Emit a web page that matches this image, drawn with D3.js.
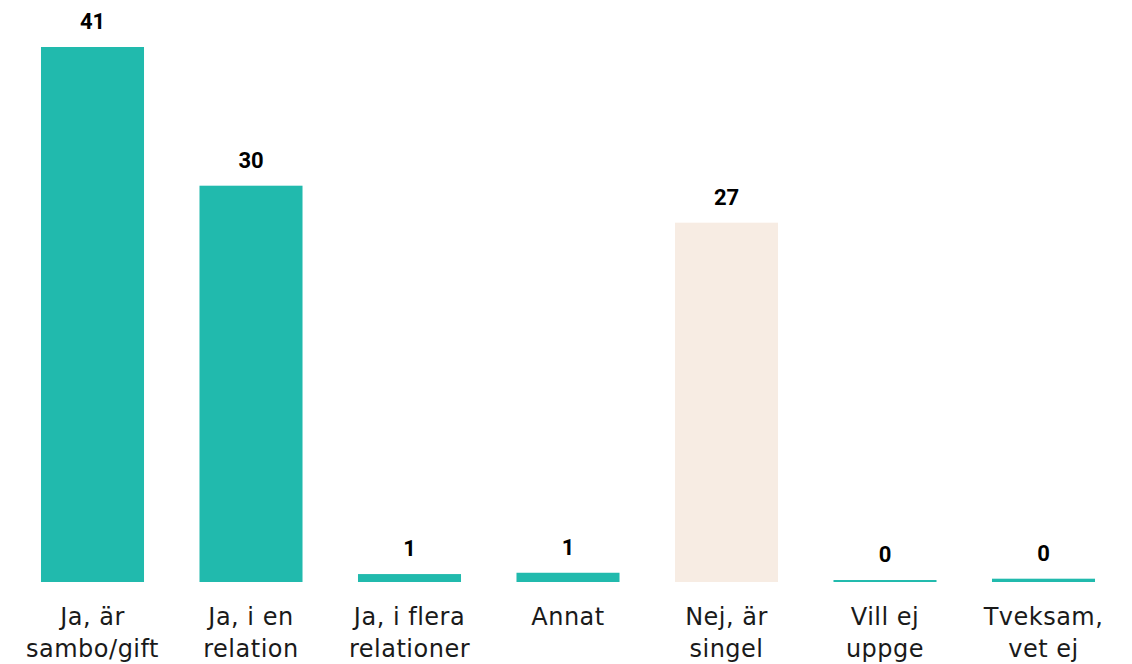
<!DOCTYPE html>
<html>
<head>
<meta charset="utf-8">
<script src="https://cdn.jsdelivr.net/npm/d3@7"></script>
<style>
  body { margin: 0; background: #fff; }
  svg { display: block; }
</style>
</head>
<body>
<svg id="chart" width="1132" height="664"></svg>
<script>
// data
var categories = [
  ["Ja, är", "sambo/gift"],
  ["Ja, i en", "relation"],
  ["Ja, i flera", "relationer"],
  ["Annat"],
  ["Nej, är", "singel"],
  ["Vill ej", "uppge"],
  ["Tveksam,", "vet ej"]
];
var values = [40.5, 30.0, 0.6, 0.7, 27.2, 0.15, 0.25];
var highlight = [false, false, false, false, true, false, false];

var teal = "#21baad";
var beige = "#f7ece3";

var svg = d3.select("#chart");

var x = d3.scaleBand()
  .domain(d3.range(values.length))
  .range([13.25, 1122.75])
  .paddingInner(0.35)
  .paddingOuter(0.175);

var y = d3.scaleLinear()
  .domain([0, d3.max(values)])
  .range([582, 47]);

// bars
svg.selectAll("rect.bar")
  .data(values).enter()
  .append("rect")
  .attr("class", "bar")
  .attr("x", function(d, i){ return x(i); })
  .attr("y", function(d){ return y(d); })
  .attr("width", x.bandwidth())
  .attr("height", function(d){ return y(0) - y(d); })
  .style("fill", function(d, i){ return highlight[i] ? beige : teal; });

// value labels (rounded)
svg.selectAll("text.val")
  .data(values).enter()
  .append("text")
  .attr("class", "val")
  .attr("x", function(d, i){ return x(i) + x.bandwidth()/2; })
  .attr("y", function(d){ return y(d) - 18; })
  .attr("text-anchor", "middle")
  .style("font-family", "Roboto, Arial, sans-serif")
  .style("font-weight", "bold")
  .style("font-size", "22px")
  .style("fill", "#000")
  .text(function(d){ return Math.round(d); });

// category labels
var cat = svg.selectAll("text.cat")
  .data(categories).enter()
  .append("text")
  .attr("class", "cat")
  .attr("x", function(d, i){ return x(i) + x.bandwidth()/2; })
  .attr("y", 625)
  .attr("text-anchor", "middle")
  .style("font-family", "'DejaVu Sans', sans-serif")
  .style("font-size", "24px")
  .style("letter-spacing", "0.5px")
  .style("fill", "#1a1a1a");

cat.selectAll("tspan")
  .data(function(d){ return d; }).enter()
  .append("tspan")
  .attr("x", function(){ return d3.select(this.parentNode).attr("x"); })
  .attr("dy", function(d, j){ return j === 0 ? 0 : 31.5; })
  .text(function(d){ return d; });
</script>
</body>
</html>
